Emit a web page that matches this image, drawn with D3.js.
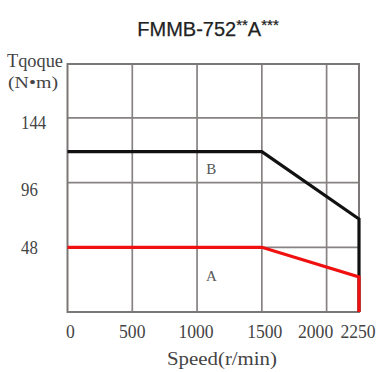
<!DOCTYPE html>
<html>
<head>
<meta charset="utf-8">
<script src="https://cdn.jsdelivr.net/npm/d3@7"></script>
<style>
  html, body { margin: 0; padding: 0; background: #fff; }
  svg { display: block; }
</style>
</head>
<body>
<svg id="chart" width="380" height="372"></svg>
<script>
// Torque-speed characteristic of the FMMB-752**A*** servo motor
const title = "FMMB-752**A***";
const speedTicks = [0, 500, 1000, 1500, 2000, 2250];
const torqueTicks = [48, 96, 144];
const speedMax = 2250;
const torqueMax = 184;

// Curve A: continuous duty, curve B: peak (short-time) duty
const speedA = [0, 1500, 2250, 2250];
const torqueA = [48, 48, 26, 0];
const speedB = [0, 1500, 2250, 2250];
const torqueB = [119, 119, 69, 0];

const curveNames = ["A", "B"];
const curveColors = ["#f01010", "#111111"];
const namePosSpeed = [1110, 1110];
const namePosTorque = [27, 106];

const svg = d3.select("#chart");
const plotL = 67.5, plotR = 359, plotT = 64, plotB = 312;

const x = d3.scaleLinear().domain([0, speedMax]).range([plotL, plotR]);
const y = d3.scaleLinear().domain([0, torqueMax]).range([plotB, plotT]);

const serif = "'Liberation Serif', 'DejaVu Serif', serif";

// Grid
const grid = svg.append("g").attr("stroke", "#878282").attr("stroke-width", 1.7);
grid.selectAll("line.v").data(speedTicks.filter(d => d > 0 && d < speedMax))
  .join("line").attr("class", "v")
  .attr("x1", d => x(d)).attr("x2", d => x(d))
  .attr("y1", plotT).attr("y2", plotB);
grid.selectAll("line.h").data(torqueTicks)
  .join("line").attr("class", "h")
  .attr("x1", plotL).attr("x2", plotR)
  .attr("y1", d => y(d)).attr("y2", d => y(d));

// Frame
svg.append("rect")
  .attr("x", plotL).attr("y", plotT)
  .attr("width", plotR - plotL).attr("height", plotB - plotT)
  .attr("fill", "none").attr("stroke", "#7c7777").attr("stroke-width", 2);

// Curves
const line = d3.line().x(d => x(d[0])).y(d => y(d[1]));
const curves = [
  d3.zip(speedA, torqueA),
  d3.zip(speedB, torqueB)
];
// draw B first so A sits on top
[1, 0].forEach(i => {
  svg.append("path")
    .attr("d", line(curves[i]))
    .attr("fill", "none")
    .attr("stroke", curveColors[i])
    .attr("stroke-width", 3.2)
    .attr("stroke-linejoin", "miter");
});

// Curve names
svg.selectAll("text.name").data(curveNames)
  .join("text").attr("class", "name")
  .attr("x", (d, i) => x(namePosSpeed[i]))
  .attr("y", (d, i) => y(namePosTorque[i]))
  .attr("dy", "0.35em")
  .attr("text-anchor", "middle")
  .attr("font-family", serif)
  .attr("font-size", 15)
  .attr("fill", "#555")
  .text(d => d);

// Y tick labels
const yShift = { 48: 0, 96: 7, 144: 5 };
svg.selectAll("text.yt").data(torqueTicks)
  .join("text").attr("class", "yt")
  .attr("x", 21)
  .attr("y", d => y(d) + yShift[d])
  .attr("dy", "0.35em")
  .attr("font-family", serif)
  .attr("font-size", 18)
  .attr("fill", "#444")
  .attr("textLength", d => String(d).length * 8.4)
  .attr("lengthAdjust", "spacingAndGlyphs")
  .text(d => d);

// X tick labels
const xShift = { 0: 3, 500: 0, 1000: -1, 1500: 3, 2000: -11, 2250: -1 };
svg.selectAll("text.xt").data(speedTicks)
  .join("text").attr("class", "xt")
  .attr("x", d => x(d) + xShift[d] - String(d).length * 4.4)
  .attr("y", 338)
  .attr("font-family", serif)
  .attr("font-size", 19)
  .attr("fill", "#444")
  .attr("textLength", d => String(d).length * 8.8)
  .attr("lengthAdjust", "spacingAndGlyphs")
  .text(d => d);

// Axis titles
svg.append("text")
  .attr("x", 167).attr("y", 365)
  .attr("font-family", serif).attr("font-size", 18).attr("fill", "#444")
  .attr("textLength", 110).attr("lengthAdjust", "spacingAndGlyphs")
  .text("Speed(r/min)");
svg.append("text")
  .attr("x", 7).attr("y", 67)
  .attr("font-family", serif).attr("font-size", 18).attr("fill", "#444")
  .attr("textLength", 56).attr("lengthAdjust", "spacingAndGlyphs")
  .text("Tqoque");
svg.append("text")
  .attr("x", 8).attr("y", 88)
  .attr("font-family", serif).attr("font-size", 17).attr("fill", "#444")
  .attr("textLength", 50).attr("lengthAdjust", "spacingAndGlyphs")
  .text("(N•m)");

// Title: asterisks set smaller and raised, like superscripts
const titleText = svg.append("text")
  .attr("x", 208).attr("y", 36)
  .attr("text-anchor", "middle")
  .attr("font-family", "'Liberation Sans', Arial, sans-serif")
  .attr("font-size", 20)
  .attr("fill", "#222")
  .attr("stroke", "#222").attr("stroke-width", 0.25);
let raised = false;
title.split(/(\*+)/).filter(s => s.length).forEach(part => {
  const star = part.startsWith("*");
  const dy = star ? (raised ? 0 : -6) : (raised ? 6 : 0);
  raised = star;
  titleText.append("tspan")
    .attr("font-size", star ? 15 : 20)
    .attr("dy", dy)
    .text(part);
});
</script>
</body>
</html>
